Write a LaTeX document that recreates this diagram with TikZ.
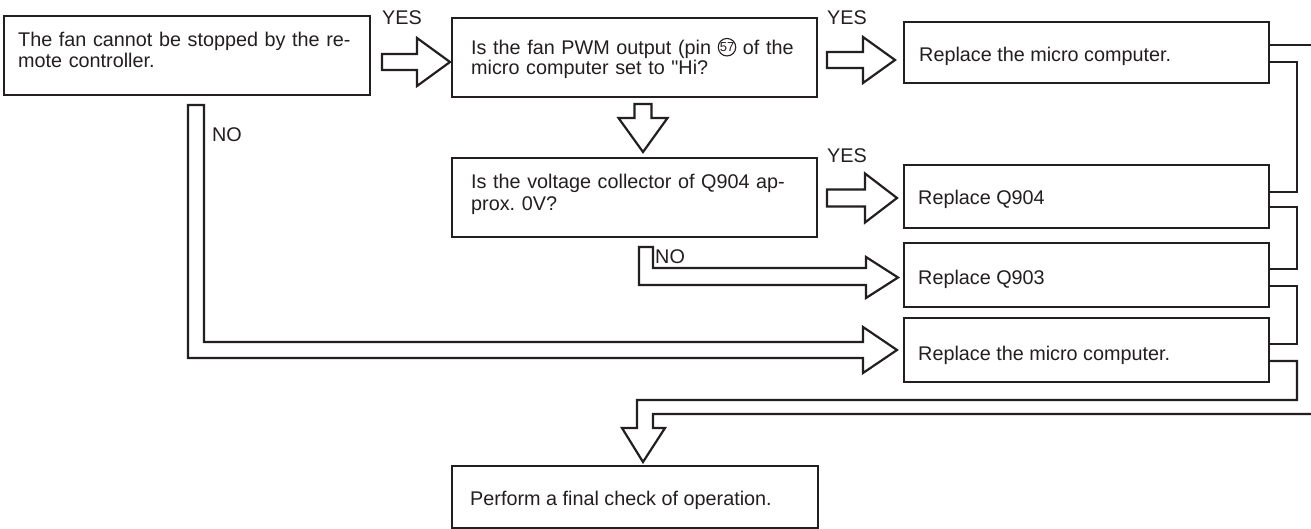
\documentclass[tikz,border=0pt]{standalone}
\usepackage{fontspec}
\setmainfont{Liberation Sans}[Ligatures=TeXOff]
\usetikzlibrary{calc,fit}
\definecolor{ink}{HTML}{231F20}
\newcommand\circn[1]{\tikz[baseline={([yshift=-7.3pt]cc.center)}]\node[circle,draw=ink,line width=1.1pt,inner sep=0pt,minimum size=17.5pt,font=\fontsize{13}{13}\selectfont](cc){#1};}
% right-pointing block arrow: start, tip, half shaft, half head, head length
\newcommand\rarrow[5]{\draw[blk] let \p1=(#1), \p2=(#2) in
  (\x1,\y1+#3pt) -- (\x2-#5pt,\y1+#3pt) -- (\x2-#5pt,\y1+#4pt) -- (\x2,\y1)
  -- (\x2-#5pt,\y1-#4pt) -- (\x2-#5pt,\y1-#3pt) -- (\x1,\y1-#3pt) -- cycle;}
% down-pointing block arrow
\newcommand\darrow[5]{\draw[blk] let \p1=(#1), \p2=(#2) in
  (\x1-#3pt,\y1) -- (\x1-#3pt,\y2+#5pt) -- (\x1-#4pt,\y2+#5pt) -- (\x1,\y2)
  -- (\x1+#4pt,\y2+#5pt) -- (\x1+#3pt,\y2+#5pt) -- (\x1+#3pt,\y1) -- cycle;}
\begin{document}
\frenchspacing
\begin{tikzpicture}[x=1pt,y=-1pt,
  ln/.style={draw=ink, line width=2.2pt, line join=miter},
  box/.style={ln, rectangle, inner sep=0pt},
  blk/.style={ln, fill=white},
  txt/.style={text=ink, inner sep=0pt, font=\fontsize{19.8}{20.5}\selectfont},
  para/.style={txt, anchor=north west, align=left, text height=15pt},
  lab/.style={txt, anchor=base west}]
\useasboundingbox (0,0) rectangle (1311,529);
\fill[white] (0,0) rectangle (1311,529);

% boxes
\node[box, fit={(4,16)(370,95)}] (b1) {};
\node[box, fit={(452,18)(817,97)}] (b2) {};
\node[box, fit={(904,22)(1269,83)}] (b3) {};
\node[box, fit={(452,158)(817,237)}] (b4) {};
\node[box, fit={(904,165)(1269,228)}] (b5) {};
\node[box, fit={(904,243)(1269,307)}] (b6) {};
\node[box, fit={(904,318)(1269,382)}] (b7) {};
\node[box, fit={(452,466)(818,528)}] (b8) {};

% texts
\node[para, text width=340pt] (t1) at (18,31.7)
  {\makebox[335pt][s]{The fan cannot be stopped by the re-}\\mote controller.};
\node[para, text width=340pt, font=\fontsize{19.8}{19.7}\selectfont] (t2) at (471,39.3)
  {\makebox[331pt][s]{Is the fan PWM output (pin \circn{57} of the}\\micro computer set to "Hi?};
\node[lab] (t3) at (919,61.7) {Replace the micro computer.};
\node[para, text width=340pt, font=\fontsize{19.8}{21.7}\selectfont] (t4) at (471,173.3)
  {\makebox[336pt][s]{Is the voltage collector of Q904 ap-}\\prox. 0V?};
\node[lab] (t5) at (918,205) {Replace Q904};
\node[lab] (t6) at (918,284) {Replace Q903};
\node[lab] (t7) at (918,360) {Replace the micro computer.};
\node[lab] (t8) at (470,505) {Perform a final check of operation.};

% labels
\node[lab] (y1) at (382,25) {YES};
\node[lab] (y2) at (827,25) {YES};
\node[lab] (y3) at (827,163) {YES};
\node[lab] (n1) at (212,141.5) {NO};
\node[lab] (n2) at (655,263.5) {NO};

% straight block arrows
\coordinate (a1s) at (382,62);  \coordinate (a1t) at (450,62);
\coordinate (a2s) at (827,60);  \coordinate (a2t) at (895,60);
\coordinate (a3s) at (643,104); \coordinate (a3t) at (643,152);
\coordinate (a4s) at (827,198); \coordinate (a4t) at (897,198);
\rarrow{a1s}{a1t}{8}{24}{33}
\rarrow{a2s}{a2t}{8}{23}{32}
\darrow{a3s}{a3t}{8.5}{24.5}{34}
\rarrow{a4s}{a4t}{8.5}{24.5}{32}

% bent NO arrows
\draw[blk] (639,247) -- (653,247) -- (653,268) -- (866,268) -- (866,257)
  -- (898,277.5) -- (866,298) -- (866,285) -- (639,285) -- cycle;
\draw[blk] (188,105) -- (204,105) -- (204,342) -- (863,342) -- (863,327)
  -- (897,350) -- (863,373) -- (863,358) -- (188,358) -- cycle;

% collecting pipe to the final check
\draw[ln] (b3.east |- 0,45) -- (1316,45);
\draw[ln] (b3.east |- 0,62) -- (1297,62) -- (1297,192) -- (b5.east |- 0,192);
\draw[ln] (b5.east |- 0,207) -- (1297,207) -- (1297,269) -- (b6.east |- 0,269);
\draw[ln] (b6.east |- 0,286) -- (1297,286) -- (1297,344) -- (b7.east |- 0,344);
\draw[ln] (b7.east |- 0,361) -- (1297,361) -- (1297,400) -- (637,400) -- (637,428)
  -- (622,428) -- (643,462) -- (665,428) -- (653,428) -- (653,414) -- (1316,414);
\end{tikzpicture}
\end{document}
